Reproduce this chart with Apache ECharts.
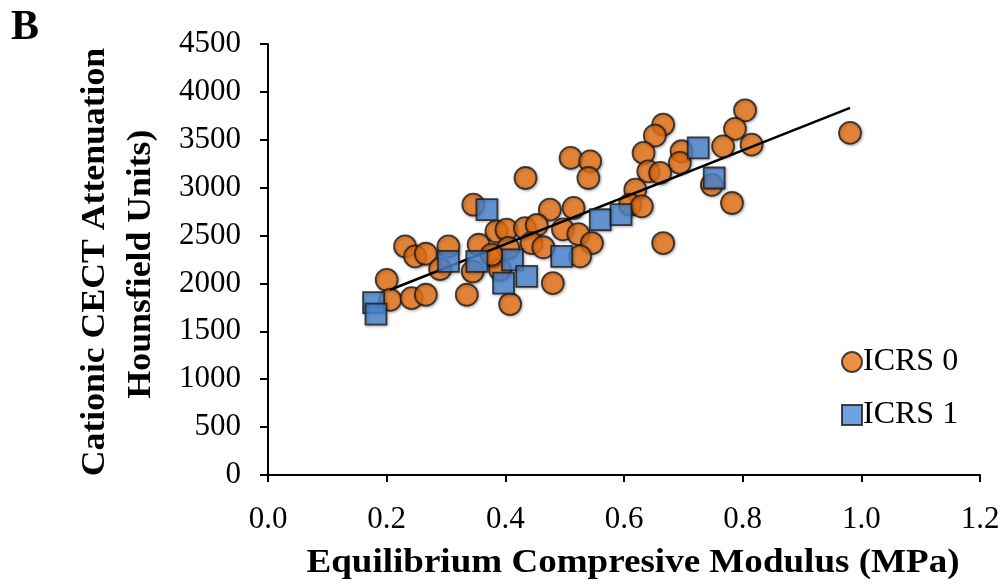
<!DOCTYPE html>
<html>
<head>
<meta charset="utf-8">
<script src="https://cdn.jsdelivr.net/npm/echarts@6/dist/echarts.min.js"></script>
<style>html,body{margin:0;padding:0;background:#fff;}#c{width:1005px;height:584px;}</style>
</head>
<body>
<div id="c"></div>
<script>
const icrs0X = [0.510,0.434,0.346,0.475,0.515,0.385,0.402,0.433,0.453,0.497,0.231,0.248,0.266,0.304,0.355,0.380,0.444,0.464,0.290,0.345,0.391,0.200,0.206,0.242,0.266,0.335,0.408,0.480,0.405,0.377,
  0.804,0.787,0.815,0.767,0.981,0.666,0.652,0.633,0.697,0.694,0.641,0.661,0.543,0.540,0.619,0.610,0.630,0.523,0.546,0.526,0.666,0.782,0.748];
const icrs0Y = [3311,3101,2822,2770,2788,2543,2561,2578,2610,2565,2387,2282,2310,2387,2404,2282,2422,2378,2150,2125,2143,2038,1829,1847,1882,1882,1785,2004,2370,2300,
  3808,3614,3449,3432,3572,3659,3543,3363,3380,3258,3170,3154,3275,3101,2979,2822,2805,2515,2422,2282,2422,2840,3030];
const icrs1X = [0.178,0.182,0.369,0.304,0.352,0.412,0.495,0.397,0.436,0.560,0.595,0.725,0.752];
const icrs1Y = [1800,1680,2770,2230,2230,2247,2282,2004,2073,2665,2718,3415,3101];
const trendX = [0.206,0.981];
const trendY = [1934,3833];
const xTicks = ['0.0','0.2','0.4','0.6','0.8','1.0','1.2'];
const seriesNames = ['ICRS 0','ICRS 1'];
const xTitle = 'Equilibrium Compresive Modulus (MPa)';
const yTitle1 = 'Cationic CECT Attenuation';
const yTitle2 = 'Hounsfield Units)';
const panelLabel = 'B';

const zip = (a,b) => a.map((v,i)=>[v,b[i]]);
const serif = '"Liberation Serif","DejaVu Serif",serif';
const chart = echarts.init(document.getElementById('c'), null, {renderer:'canvas'});
const shadow = {shadowBlur:3, shadowColor:'rgba(0,0,0,0.35)', shadowOffsetX:1, shadowOffsetY:1};
chart.setOption({
  animation:false,
  backgroundColor:'#fff',
  grid:{left:268,right:25,top:44,bottom:109},
  xAxis:{type:'value',min:0,max:1.2,interval:0.2,
    axisLine:{onZero:false,lineStyle:{color:'#000',width:2}},
    axisTick:{show:true,length:7,lineStyle:{color:'#000',width:2}},
    splitLine:{show:false},
    axisLabel:{margin:29,color:'#000',fontFamily:serif,fontSize:31,formatter:(v)=>xTicks[Math.round(v/0.2)]}
  },
  yAxis:{type:'value',min:0,max:4500,interval:500,
    axisLine:{show:true,lineStyle:{color:'#000',width:2}},
    axisTick:{show:true,length:8,lineStyle:{color:'#000',width:2}},
    splitLine:{show:false},
    axisLabel:{margin:27,color:'#000',fontFamily:serif,fontSize:31,formatter:(v)=>String(v)}
  },
  legend:{orient:'vertical',left:836,top:341,itemWidth:20,itemHeight:20,itemGap:21,
    data:[{name:seriesNames[0],icon:'circle'},{name:seriesNames[1],icon:'rect'}],
    textStyle:{color:'#000',fontFamily:serif,fontSize:32,padding:[0,0,0,-4]}
  },
  graphic:[
    {type:'text',left:11,top:7,style:{text:panelLabel,font:'bold 42px '+serif,fill:'#000'}},
    {type:'text',x:95,y:262,rotation:Math.PI/2,scaleX:1.05,style:{text:yTitle1,font:'bold 34px '+serif,fill:'#000',align:'center',verticalAlign:'middle'}},
    {type:'text',x:141,y:264,rotation:Math.PI/2,scaleX:1.05,style:{text:yTitle2,font:'bold 34px '+serif,fill:'#000',align:'center',verticalAlign:'middle'}},
    {type:'text',x:633,y:563,scaleX:1.09,style:{text:xTitle,font:'bold 34px '+serif,fill:'#000',align:'center',verticalAlign:'middle'}}
  ],
  series:[
    {name:seriesNames[0],type:'scatter',symbol:'circle',symbolSize:22,z:2,
      itemStyle:Object.assign({color:'#EC7417',borderColor:'#1a1a1a',borderWidth:1.8},shadow),
      data:zip(icrs0X,icrs0Y)},
    {name:'trend',type:'line',symbol:'none',z:3,lineStyle:{color:'#000',width:2.5},data:zip(trendX,trendY)},
    {name:seriesNames[1],type:'scatter',symbol:'rect',symbolSize:21,z:4,
      itemStyle:Object.assign({color:'#4C89D6',borderColor:'#1a1a1a',borderWidth:1.8},shadow),
      data:zip(icrs1X,icrs1Y)}
  ]
});
</script>
</body>
</html>
